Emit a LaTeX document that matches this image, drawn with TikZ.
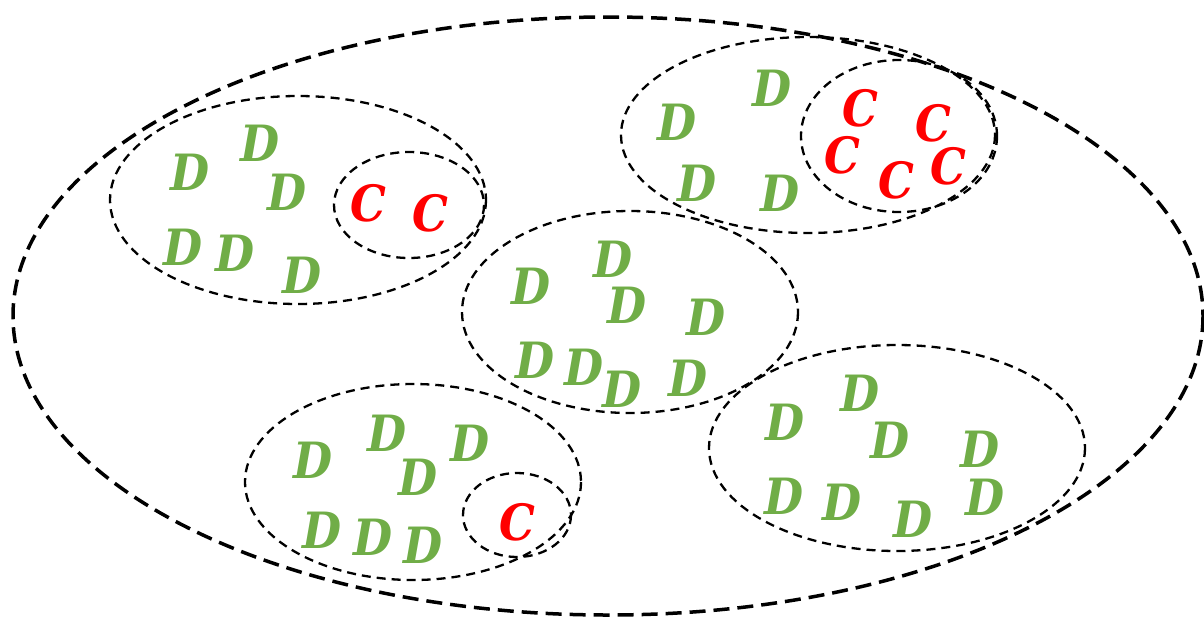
\documentclass[tikz,border=0pt]{standalone}
\usepackage{fontspec}
\setmainfont{DejaVu Serif Condensed}
\begin{document}
\begin{tikzpicture}[x=1pt,y=-1pt,
  grp/.style={draw=black,line width=2.3pt,dash pattern=on 9pt off 6pt},
  outer/.style={draw=black,line width=3.5pt,dash pattern=on 16pt off 8pt},
  dd/.style={text=dgreen,font=\fontsize{50}{50}\selectfont\bfseries\itshape,inner sep=0pt},
  cc/.style={text=red,font=\fontsize{50}{50}\selectfont\bfseries\itshape,inner sep=0pt}]
\definecolor{dgreen}{HTML}{70AD47}
\useasboundingbox (0,0) rectangle (1204,619);
% outer region
\draw[outer] (608,316) ellipse [x radius=595, y radius=299];
% groups
\draw[grp] (298,200) ellipse [x radius=188, y radius=104];
\draw[grp] (409,205) ellipse [x radius=75, y radius=53];
\draw[grp] (808,135) ellipse [x radius=187, y radius=98];
\draw[grp] (899,136) ellipse [x radius=98, y radius=76];
\draw[grp] (630,312) ellipse [x radius=168, y radius=101];
\draw[grp] (413,482) ellipse [x radius=168, y radius=98];
\draw[grp] (517,515) ellipse [x radius=54, y radius=42];
\draw[grp] (897,448) ellipse [x radius=188, y radius=103];
% top-left group
\node[dd] (tl1) at (190,172) {D};
\node[dd] (tl2) at (260,143) {D};
\node[dd] (tl3) at (287,192) {D};
\node[dd] (tl4) at (183,247) {D};
\node[dd] (tl5) at (235,253) {D};
\node[dd] (tl6) at (302,275) {D};
\node[cc] (tlc1) at (368,203) {C};
\node[cc] (tlc2) at (430,213) {C};
% top-right group
\node[dd] (tr1) at (677,122) {D};
\node[dd] (tr2) at (772,88) {D};
\node[dd] (tr3) at (697,183) {D};
\node[dd] (tr4) at (780,193) {D};
\node[cc] (trc1) at (860,108) {C};
\node[cc] (trc2) at (933,123) {C};
\node[cc] (trc3) at (842,155) {C};
\node[cc] (trc4) at (896,180) {C};
\node[cc] (trc5) at (948,166) {C};
% middle group
\node[dd] (m1) at (531,286) {D};
\node[dd] (m2) at (613,259) {D};
\node[dd] (m3) at (627,305) {D};
\node[dd] (m4) at (706,317) {D};
\node[dd] (m5) at (535,360) {D};
\node[dd] (m6) at (584,367) {D};
\node[dd] (m7) at (622,389) {D};
\node[dd] (m8) at (688,378) {D};
% bottom-left group
\node[dd] (bl1) at (313,460) {D};
\node[dd] (bl2) at (387,433) {D};
\node[dd] (bl3) at (470,443) {D};
\node[dd] (bl4) at (418,477) {D};
\node[dd] (bl5) at (322,530) {D};
\node[dd] (bl6) at (373,537) {D};
\node[dd] (bl7) at (423,545) {D};
\node[cc] (blc1) at (517,522) {C};
% bottom-right group
\node[dd] (br1) at (785,422) {D};
\node[dd] (br2) at (860,393) {D};
\node[dd] (br3) at (890,440) {D};
\node[dd] (br4) at (980,449) {D};
\node[dd] (br5) at (784,496) {D};
\node[dd] (br6) at (842,502) {D};
\node[dd] (br7) at (913,519) {D};
\node[dd] (br8) at (985,497) {D};
\end{tikzpicture}
\end{document}
